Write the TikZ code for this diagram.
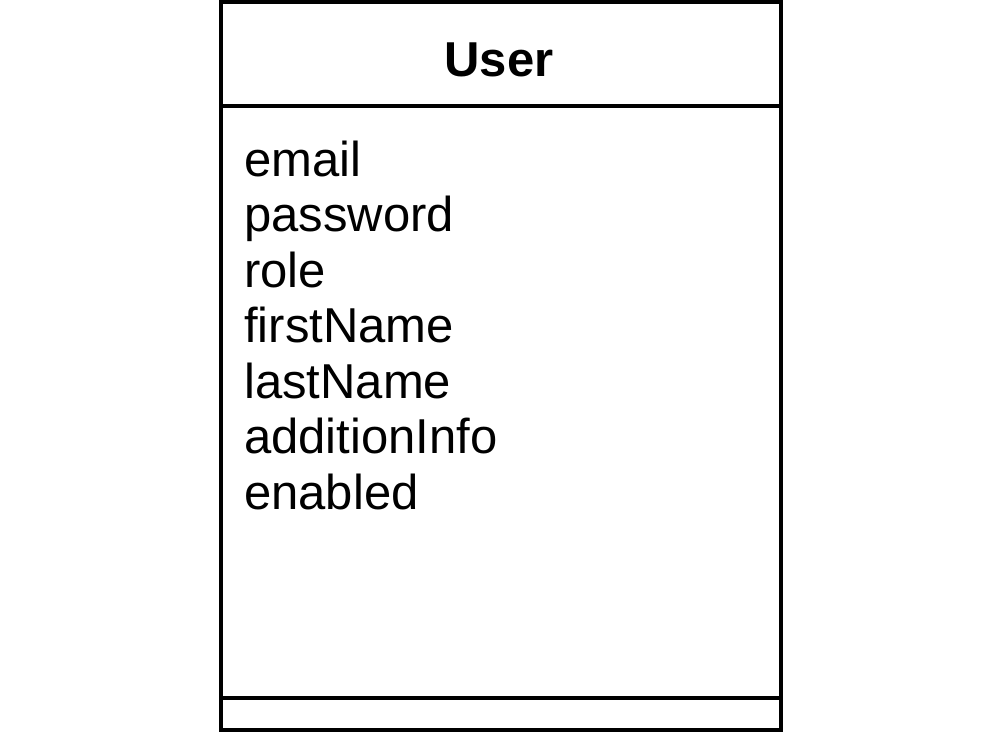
\documentclass[tikz,border=0pt]{standalone}
\usepackage{fontspec}
\setmainfont{Liberation Sans}
\begin{document}
\begin{tikzpicture}[x=1pt,y=-1pt,
  frame/.style={draw=black,line width=4pt},
  attr/.style={anchor=base west,inner sep=0pt,font=\fontsize{49}{56}\selectfont},
  title/.style={anchor=base,inner sep=0pt,font=\fontsize{49}{56}\selectfont\bfseries}]
\useasboundingbox (0,0) rectangle (992,732);
\coordinate (tl) at (221,2);
\coordinate (br) at (781,730);
\draw[frame] (tl) rectangle (br);
\coordinate (h1) at (221,106);
\coordinate (h2) at (781,106);
\coordinate (d1) at (221,698);
\coordinate (d2) at (781,698);
\draw[frame] (h1) -- (h2);
\draw[frame] (d1) -- (d2);
\node[title] (name) at (499,76) {User};
\node[attr] (a1) at (244,176) {email};
\node[attr] (a2) at (244,231.5) {password};
\node[attr] (a3) at (244,287) {role};
\node[attr] (a4) at (244,342.5) {firstName};
\node[attr] (a5) at (244,398) {lastName};
\node[attr] (a6) at (244,453.5) {additionInfo};
\node[attr] (a7) at (244,509) {enabled};
\end{tikzpicture}
\end{document}
